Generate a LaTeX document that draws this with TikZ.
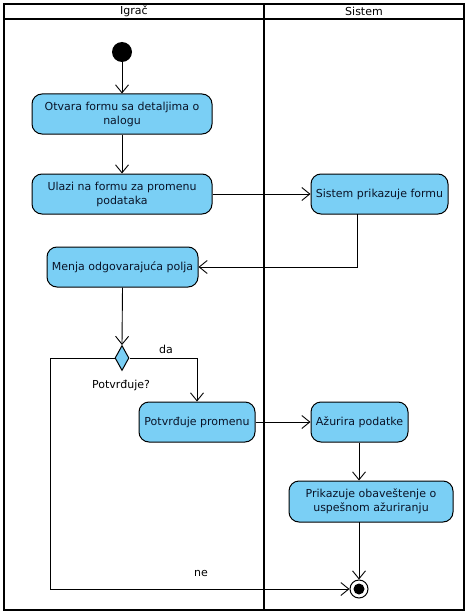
\documentclass[tikz,border=0pt]{standalone}
\usepackage{fontspec}
\setmainfont{DejaVu Sans}
\usetikzlibrary{arrows.meta,shapes.geometric}
\definecolor{actfill}{RGB}{122,207,245}
\definecolor{txt}{RGB}{10,20,40}
\tikzset{
  act/.style={draw=black, fill=actfill, rounded corners=10pt, line width=1pt,
    text=txt, align=center, inner sep=0pt, font=\fontsize{11}{14}\selectfont},
  conn/.style={line width=0.9pt, -{Straight Barb[length=8pt,width=13pt,line width=0.9pt]}},
  plain/.style={line width=0.9pt},
  lbl/.style={font=\fontsize{11}{14}\selectfont, text=black, inner sep=0pt},
  frame/.style={line width=2pt, draw=black}
}
\begin{document}
\begin{tikzpicture}[x=1pt,y=-1pt]
\useasboundingbox (0,0) rectangle (469,615);
\fill[white] (0,0) rectangle (469,615);
% swimlane frame
\draw[frame] (4,4) rectangle (464,610);
\draw[frame] (4,19) -- (464,19);
\draw[frame] (264,4) -- (264,610);
\node[lbl] (h1) at (134,11.5) {Igrač};
\node[lbl] (h2) at (364,11.5) {Sistem};
% nodes
\node[circle, fill=black, minimum size=20pt, inner sep=0pt] (init) at (122,52) {};
\node[act, minimum width=180pt, minimum height=40pt] (a1) at (122,114) {Otvara formu sa detaljima o\\nalogu};
\node[act, minimum width=180pt, minimum height=40pt] (a2) at (122,194) {Ulazi na formu za promenu\\podataka};
\node[act, minimum width=137pt, minimum height=40pt] (a3) at (379.5,194) {Sistem prikazuje formu};
\node[act, minimum width=151pt, minimum height=40pt] (a4) at (122.5,267) {Menja odgovarajuća polja};
\node[diamond, aspect=0.56, draw=black, fill=actfill, line width=1pt, minimum width=14pt, minimum height=25pt, inner sep=0pt] (dec) at (122,358) {};
\node[act, minimum width=116pt, minimum height=40pt] (a5) at (197,422) {Potvrđuje promenu};
\node[act, minimum width=97pt, minimum height=40pt] (a6) at (359.5,422) {Ažurira podatke};
\node[act, minimum width=164pt, minimum height=41pt] (a7) at (371,501.5) {Prikazuje obaveštenje o\\uspešnom ažuriranju};
\node[circle, draw=black, line width=1pt, fill=white, minimum size=18pt, inner sep=0pt] (fin) at (359,589) {};
\node[circle, fill=black, minimum size=11pt, inner sep=0pt] (finin) at (fin.center) {};
\coordinate (c3) at (357,214);
\coordinate (c7) at (359,522);
\coordinate (cl) at (50,358);
% labels
\node[lbl] (lda) at (166,349) {da};
\node[lbl] (lpot) at (121,385) {Potvrđuje?};
\node[lbl] (lne) at (201,573) {ne};
% connectors
\draw[conn] (init) -- (a1.north);
\draw[conn] (a1.south) -- (a2.north);
\draw[conn] (a2.east) -- (a3.west);
\draw[conn] (c3) |- (a4.east);
\draw[conn] (a4.south) -- (dec.north);
\draw[conn] (dec.east) -| (a5.north);
\draw[conn] (a5.east) -- (a6.west);
\draw[conn] (a6.south -| c7) -- (a7.north -| c7);
\draw[conn] (c7) -- (fin.north);
\draw[plain] (dec.west) -- (cl);
\draw[conn] (cl) |- (fin.west);
\end{tikzpicture}
\end{document}
